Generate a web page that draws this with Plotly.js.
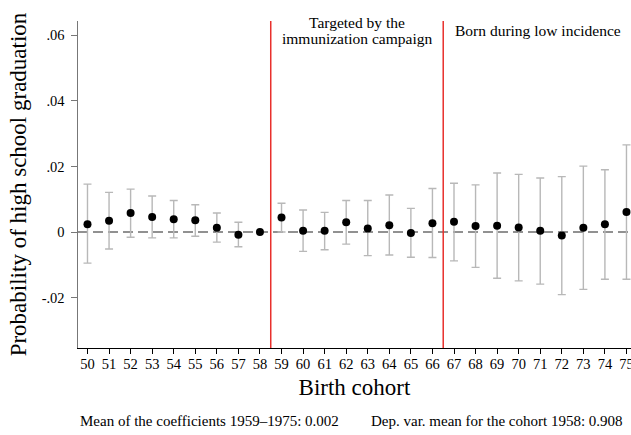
<!DOCTYPE html>
<html>
<head>
<meta charset="utf-8">
<script src="https://cdn.plot.ly/plotly-3.0.1.min.js"></script>
<style>
  html, body { margin: 0; padding: 0; background: #fff; }
  #chart { width: 631px; height: 435px; }
</style>
</head>
<body>
<div id="chart"></div>
<script>
// birth cohorts (19xx)
const cohorts = [50, 51, 52, 53, 54, 55, 56, 57, 58, 59, 60, 61, 62, 63, 64, 65, 66, 67, 68, 69, 70, 71, 72, 73, 74, 75];
const cohortLabels = cohorts.map((c) => String(c));

// point estimates and 95% CI bounds
const coef = [0.0024, 0.0034, 0.0058, 0.0046, 0.0039, 0.0036, 0.0013, -0.0008, 0.0, 0.0044,
  0.0004, 0.0004, 0.0030, 0.0011, 0.0021, -0.0003, 0.0027, 0.0031, 0.0018, 0.0019,
  0.0014, 0.0004, -0.0011, 0.0013, 0.0024, 0.0061];
const ciHigh = [0.0146, 0.0121, 0.0131, 0.0110, 0.0096, 0.0083, 0.0058, 0.0030, 0.0, 0.0088,
  0.0067, 0.0060, 0.0096, 0.0096, 0.0113, 0.0072, 0.0133, 0.0149, 0.0144, 0.0180,
  0.0176, 0.0165, 0.0169, 0.0201, 0.0190, 0.0266];
const ciLow = [-0.0095, -0.0052, -0.0016, -0.0018, -0.0018, -0.0013, -0.0031, -0.0045, 0.0, 0.0000,
  -0.0059, -0.0054, -0.0037, -0.0072, -0.0070, -0.0077, -0.0078, -0.0088, -0.0108, -0.0141,
  -0.0149, -0.0159, -0.0191, -0.0175, -0.0144, -0.0144];

const yTickVals = [-0.02, 0, 0.02, 0.04, 0.06];
const yTickText = ["-.02", "0", ".02", ".04", ".06"];

// vertical separators between periods
const periodBreaks = [58.5, 66.5];

const serif = "Liberation Serif";

const draw = () => {
  const plotEl = document.getElementById("chart");

  const data = [
    {
      x: cohorts,
      y: coef,
      type: "scatter",
      mode: "markers",
      marker: { color: "#000", size: 8 },
      error_y: {
        type: "data",
        symmetric: false,
        array: ciHigh.map((h, i) => h - coef[i]),
        arrayminus: ciLow.map((l, i) => coef[i] - l),
        color: "#b8b8b8",
        thickness: 1.4,
        width: 4
      },
      showlegend: false,
      hoverinfo: "skip"
    }
  ];

  const shapes = [
    {
      type: "line", xref: "paper", yref: "y",
      x0: 0, x1: 1, y0: 0, y1: 0,
      line: { color: "#6e6e6e", width: 1.3, dash: "10px,5px" },
      layer: "below"
    }
  ].concat(periodBreaks.map((b) => ({
    type: "line", xref: "x", yref: "paper",
    x0: b, x1: b, y0: 0, y1: 1,
    line: { color: "#e8302c", width: 1.5 }
  })));

  const layout = {
    width: 631,
    height: 435,
    margin: { t: 21, r: 0, b: 87, l: 78 },
    paper_bgcolor: "#fff",
    plot_bgcolor: "#fff",
    font: { family: serif, color: "#000", size: 14 },
    showlegend: false,
    xaxis: {
      range: [49.56, 75.21],
      tickmode: "array",
      tickvals: cohorts,
      ticktext: cohortLabels,
      ticks: "outside",
      ticklen: 5,
      tickcolor: "#000",
      tickfont: { family: serif, size: 14.5 },
      ticklabeloverflow: "allow",
      ticklabelstandoff: -3,
      showgrid: false,
      zeroline: false,
      showline: true,
      linecolor: "#000",
      linewidth: 1.2,
      title: { text: "Birth cohort", font: { family: serif, size: 23 }, standoff: 8 }
    },
    yaxis: {
      range: [-0.0354, 0.0644],
      tickmode: "array",
      tickvals: yTickVals,
      ticktext: yTickText,
      ticks: "outside",
      ticklen: 6,
      tickcolor: "#777",
      tickfont: { family: serif, size: 14.5 },
      ticklabelstandoff: 3,
      showgrid: false,
      zeroline: false,
      showline: true,
      linecolor: "#777",
      linewidth: 1.5,
      title: { text: "Probability of high school graduation", font: { family: serif, size: 23 }, standoff: 8 }
    },
    shapes: shapes,
    annotations: [
      {
        xref: "x", yref: "paper", x: 62.5, y: 0.994,
        text: "Targeted by the",
        showarrow: false, xanchor: "center", yanchor: "middle",
        font: { family: serif, size: 15.5 }
      },
      {
        xref: "x", yref: "paper", x: 62.5, y: 0.948,
        text: "immunization campaign",
        showarrow: false, xanchor: "center", yanchor: "middle",
        font: { family: serif, size: 15.5 }
      },
      {
        xref: "x", yref: "paper", x: 70.9, y: 0.972,
        text: "Born during low incidence",
        showarrow: false, xanchor: "center", yanchor: "middle",
        font: { family: serif, size: 15.5 }
      },
      {
        xref: "paper", yref: "paper", x: 0.0, y: -0.222,
        text: "Mean of the coefficients 1959\u20131975: 0.002",
        showarrow: false, xanchor: "left", yanchor: "middle",
        font: { family: serif, size: 15 }
      },
      {
        xref: "paper", yref: "paper", x: 0.527, y: -0.222,
        text: "Dep. var. mean for the cohort 1958: 0.908",
        showarrow: false, xanchor: "left", yanchor: "middle",
        font: { family: serif, size: 15 }
      }
    ]
  };

  Plotly.newPlot(plotEl, data, layout, { displayModeBar: false, staticPlot: true });
};

draw();
</script>
</body>
</html>
